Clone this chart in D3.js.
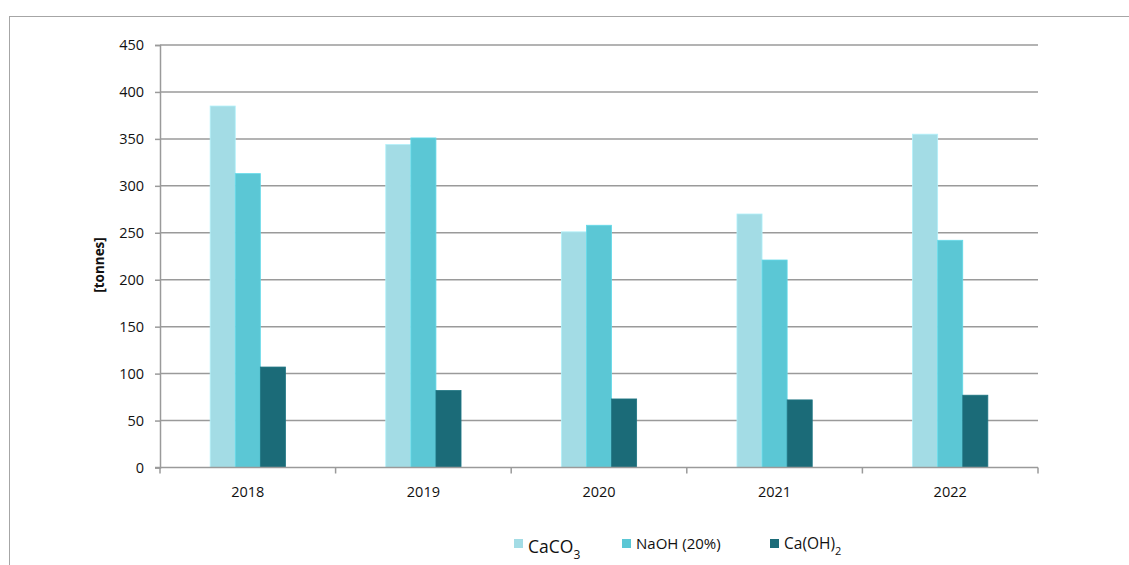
<!DOCTYPE html>
<html>
<head>
<meta charset="utf-8">
<script src="https://cdn.jsdelivr.net/npm/d3@7"></script>
<style>
  html, body { margin: 0; padding: 0; background: #fff; }
  svg { display: block; font-family: "Open Sans", "Noto Sans", sans-serif; }
</style>
</head>
<body>
<svg id="chart" width="1129" height="565"></svg>
<script>
// Annual consumption of treatment chemicals, tonnes
const years = ["2018", "2019", "2020", "2021", "2022"];
const caco3 = [385, 344, 251, 270, 355];
const naoh = [313, 351, 258, 221, 242];
const caoh2 = [107, 82, 73, 72, 77];
const yTicks = [0, 50, 100, 150, 200, 250, 300, 350, 400, 450];

const series = [
  { key: "caco3", values: caco3, color: "#a3dce5" },
  { key: "naoh", values: naoh, color: "#5bc7d5" },
  { key: "caoh2", values: caoh2, color: "#1b6b78" }
];

const svg = d3.select("#chart");
const margin = { left: 160, right: 1038, top: 45, bottom: 467.5 };

// outer frame
svg.append("rect")
  .attr("x", 9.5).attr("y", 16.5)
  .attr("width", 1140).attr("height", 600)
  .attr("fill", "none").attr("stroke", "#a6a6a6").attr("stroke-width", 1);

const x = d3.scaleBand().domain(years).range([margin.left, margin.right]).padding(0);
const y = d3.scaleLinear().domain([0, 450]).range([margin.bottom, margin.top]);
const inner = d3.scaleBand().domain(series.map(s => s.key))
  .range([0, x.bandwidth()]).paddingInner(0).paddingOuter(2);

// gridlines
svg.append("g").selectAll("line").data(yTicks.filter(t => t > 0)).join("line")
  .attr("x1", margin.left).attr("x2", margin.right)
  .attr("y1", d => y(d)).attr("y2", d => y(d))
  .attr("stroke", "#9a9a9a").attr("stroke-width", 1.5);

// bars
series.forEach(s => {
  svg.append("g").selectAll("rect").data(years).join("rect")
    .attr("x", (d) => x(d) + inner(s.key))
    .attr("y", (d, i) => y(s.values[i]))
    .attr("width", inner.bandwidth())
    .attr("height", (d, i) => y(0) - y(s.values[i]))
    .attr("fill", s.color)
    .attr("stroke", d3.color(s.color).brighter(0.25))
    .attr("stroke-width", 0.8);
});

// y axis
const yAxis = d3.axisLeft(y).tickValues(yTicks).tickSize(5).tickPadding(11);
const gy = svg.append("g").attr("transform", `translate(${margin.left},0)`).call(yAxis);
gy.select(".domain").attr("stroke", "#9a9a9a").attr("stroke-width", 1.5);
gy.selectAll(".tick line").attr("stroke", "#9a9a9a").attr("stroke-width", 1.5);
gy.selectAll("text").attr("font-size", 14.5).attr("fill", "#111")
  .attr("font-family", "Open Sans, sans-serif");

// x axis with ticks at category boundaries
const gx = svg.append("g").attr("transform", `translate(0,${margin.bottom})`);
gx.append("line").attr("x1", margin.left - 5).attr("x2", margin.right)
  .attr("stroke", "#9a9a9a").attr("stroke-width", 1.5);
const bounds = years.map(d => x(d)).concat([x(years[years.length - 1]) + x.bandwidth()]);
gx.selectAll("line.b").data(bounds).join("line").attr("class", "b")
  .attr("x1", d => d).attr("x2", d => d).attr("y1", 0).attr("y2", 6)
  .attr("stroke", "#9a9a9a").attr("stroke-width", 1.5);
gx.selectAll("text").data(years).join("text")
  .attr("x", d => x(d) + x.bandwidth() / 2).attr("y", 29)
  .attr("text-anchor", "middle").attr("font-size", 14.5).attr("fill", "#111")
  .text(d => d);

// y axis title
svg.append("text")
  .attr("transform", "translate(104,265) rotate(-90)")
  .attr("text-anchor", "middle").attr("font-size", 13.5).attr("font-weight", "bold")
  .attr("fill", "#111").text("[tonnes]");

// legend
const legend = svg.append("g");
const legendItems = [
  { color: series[0].color, x: 514, main: "CaCO", sub: "3", size: 17.5, subSize: 12, base: 553 },
  { color: series[1].color, x: 622, main: "NaOH (20%)", sub: null, size: 15, subSize: 0, base: 549 },
  { color: series[2].color, x: 770, main: "Ca(OH)", sub: "2", size: 15.5, subSize: 11, base: 549 }
];
legendItems.forEach(it => {
  legend.append("rect").attr("x", it.x).attr("y", 539).attr("width", 9).attr("height", 9)
    .attr("fill", it.color);
  const t = legend.append("text").attr("x", it.x + 14).attr("y", it.base)
    .attr("font-size", it.size).attr("fill", "#111");
  t.append("tspan").text(it.main);
  if (it.sub) {
    t.append("tspan").attr("font-size", it.subSize).attr("dy", 6).text(it.sub);
  }
});
</script>
</body>
</html>
